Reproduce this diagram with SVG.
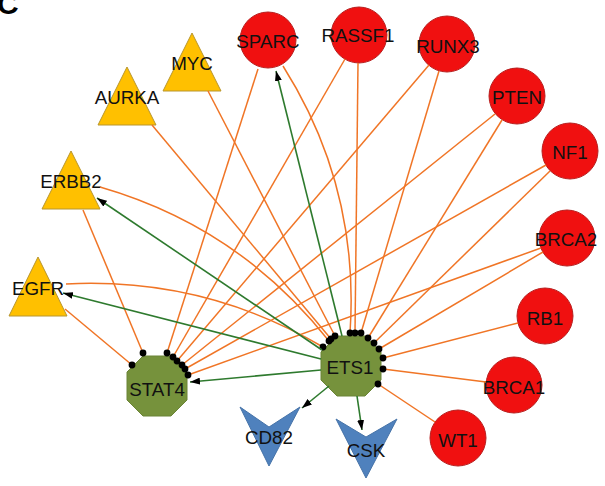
<svg xmlns="http://www.w3.org/2000/svg" width="605" height="486" viewBox="0 0 605 486">
  <style>
    .lbl { font-family: "Liberation Sans", Arial, sans-serif; font-size: 18.8px; fill: #111; text-anchor: middle; }
    .panel { font-family: "Liberation Sans", Arial, sans-serif; font-size: 30px; font-weight: bold; fill: #000; }
    .gene { fill: #F01010; stroke: #B82020; stroke-width: 1; }
    .tri { fill: #FFC000; stroke: #B8962E; stroke-width: 1; }
    .oct { fill: #76923C; stroke: #6A8436; stroke-width: 1; }
    .chev { fill: #4F81BD; stroke: #4673A8; stroke-width: 1; }
    .inh { fill: none; stroke: #F07526; stroke-width: 1.5; marker-end: url(#dot); }
    .act { fill: none; stroke: #2E7A2E; stroke-width: 1.6; marker-end: url(#arr); }
  </style>
  <defs>
    <marker id="dot" markerUnits="userSpaceOnUse" viewBox="0 0 8 8" refX="4" refY="4" markerWidth="8" markerHeight="8">
      <circle cx="4" cy="4" r="3.4" fill="#000"/>
    </marker>
    <marker id="arr" markerUnits="userSpaceOnUse" viewBox="0 0 10 7" refX="10" refY="3.5" markerWidth="10" markerHeight="7" orient="auto">
      <path d="M0,0 L10,3.5 L0,7 Z" fill="#000"/>
    </marker>
  </defs>

  <rect width="605" height="486" fill="#fff"/>
  <text class="panel" x="-3" y="14">C</text>

  <!-- nodes -->
  <g id="MYC"><polygon class="tri" points="192,33 163,91 221,91"/><text class="lbl" x="192" y="69.5">MYC</text></g>
  <g id="AURKA"><polygon class="tri" points="127,67 98,125 156,125"/><text class="lbl" x="127" y="103.5">AURKA</text></g>
  <g id="ERBB2"><polygon class="tri" points="71,151 42,209 100,209"/><text class="lbl" x="71" y="188">ERBB2</text></g>
  <g id="EGFR"><polygon class="tri" points="38,257 9,316 67,316"/><text class="lbl" x="38" y="295">EGFR</text></g>

  <g id="SPARC"><circle class="gene" cx="268" cy="40" r="28"/><text class="lbl" x="268" y="47.5">SPARC</text></g>
  <g id="RASSF1"><circle class="gene" cx="359" cy="35" r="28"/><text class="lbl" x="358" y="42">RASSF1</text></g>
  <g id="RUNX3"><circle class="gene" cx="447" cy="44" r="28"/><text class="lbl" x="448" y="52.5">RUNX3</text></g>
  <g id="PTEN"><circle class="gene" cx="517" cy="96" r="28"/><text class="lbl" x="517" y="103.5">PTEN</text></g>
  <g id="NF1"><circle class="gene" cx="570" cy="151" r="28"/><text class="lbl" x="570" y="159">NF1</text></g>
  <g id="BRCA2"><circle class="gene" cx="567" cy="238" r="28"/><text class="lbl" x="566" y="245.5">BRCA2</text></g>
  <g id="RB1"><circle class="gene" cx="545" cy="316" r="28"/><text class="lbl" x="545" y="324.5">RB1</text></g>
  <g id="BRCA1"><circle class="gene" cx="514" cy="385" r="28"/><text class="lbl" x="514" y="393.5">BRCA1</text></g>
  <g id="WT1"><circle class="gene" cx="458" cy="438" r="28"/><text class="lbl" x="458" y="446.5">WT1</text></g>

  <g id="STAT4"><polygon class="oct" points="143,356 171,356 187,372 187,400 171,416 143,416 127,400 127,372"/><text class="lbl" x="157" y="395.5">STAT4</text></g>
  <g id="ETS1"><polygon class="oct" points="337,336 365,336 381,352 381,380 365,396 337,396 321,380 321,352"/><text class="lbl" x="350" y="374">ETS1</text></g>

  <g id="CD82"><polygon class="chev" points="240,407 269,427 300,407 269,466"/><text class="lbl" x="269" y="444">CD82</text></g>
  <g id="CSK"><polygon class="chev" points="336,419 366,437 397,419 366,478"/><text class="lbl" x="366" y="456.5">CSK</text></g>

  <!-- connectors: orange edges end in a dot, green edges end in an arrowhead -->
  <g id="connectors">
    <!-- into STAT4 -->
    <path class="inh" d="M65,309 L132,365"/>
    <path class="inh" d="M83,210 L143,353"/>
    <path class="inh" d="M258,69 L167,353"/>
    <path class="inh" d="M345,59 L173,357"/>
    <path class="inh" d="M429,65 L177,361"/>
    <path class="inh" d="M495,114 L182,365"/>
    <path class="inh" d="M546,165 L185,369"/>
    <path class="inh" d="M541,248 L188,375"/>
    <!-- into ETS1 -->
    <path class="inh" d="M66,284 Q204,277 323,347"/>
    <path class="inh" d="M100,187 Q239,227 329,341"/>
    <path class="inh" d="M152,125 L331,339"/>
    <path class="inh" d="M208,91 L335,336"/>
    <path class="inh" d="M283,66 Q360,188 350,333"/>
    <path class="inh" d="M358,63 L355,333"/>
    <path class="inh" d="M439,71 L361,333"/>
    <path class="inh" d="M502,120 L368,338"/>
    <path class="inh" d="M550,171 L374,343"/>
    <path class="inh" d="M543,252 L379,349"/>
    <path class="inh" d="M518,323 L383,358"/>
    <path class="inh" d="M486,382 L383,369"/>
    <path class="inh" d="M435,422 L378,384"/>
    <!-- out of ETS1 -->
    <path class="act" d="M342,336 L276,71"/>
    <path class="act" d="M322,350 L97,198"/>
    <path class="act" d="M321,359 L63,293"/>
    <path class="act" d="M321,370 L190,382"/>
    <path class="act" d="M329,386 L302,408"/>
    <path class="act" d="M357,396 L362,430"/>
  </g>
</svg>
